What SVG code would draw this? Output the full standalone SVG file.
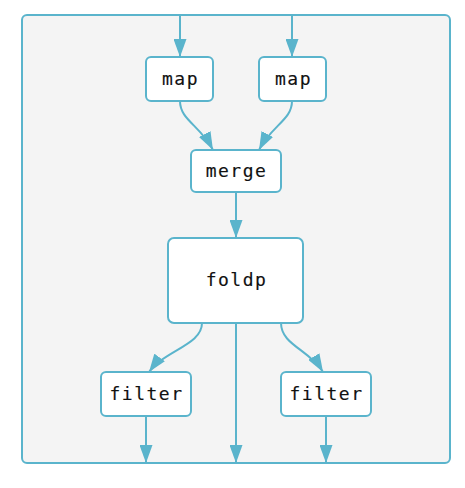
<svg xmlns="http://www.w3.org/2000/svg" width="465" height="488" viewBox="0 0 465 488">
<style>
.box{fill:#ffffff;stroke:#5ab4cc;stroke-width:2}
.frame{fill:#f4f4f4;stroke:#5ab4cc;stroke-width:2}
.edge{fill:none;stroke:#5ab4cc;stroke-width:2}
text{font-family:"DejaVu Sans Mono","Liberation Mono",monospace;font-size:18px;letter-spacing:1.5px;fill:#111;stroke:#111;stroke-width:0.15;text-anchor:middle}
</style>
<defs>
<marker id="ah" viewBox="0 0 18 13" refX="18" refY="6.5" markerWidth="18" markerHeight="13" markerUnits="userSpaceOnUse" orient="auto">
<path d="M0,0 L18,6.5 L0,13 z" fill="#5ab4cc"/>
</marker>
</defs>
<rect class="frame" x="22" y="15" width="428" height="448" rx="5"/>
<g id="connectors">
<path class="edge" d="M180,15 L180,57" marker-end="url(#ah)"/>
<path class="edge" d="M292,15 L292,57" marker-end="url(#ah)"/>
<path class="edge" d="M180,101 C180,120 200,125 213,150" marker-end="url(#ah)"/>
<path class="edge" d="M292,101 C292,120 272,125 259,150" marker-end="url(#ah)"/>
<path class="edge" d="M236,192 L236,238" marker-end="url(#ah)"/>
<path class="edge" d="M202,323 C202,345 165,350 149,372" marker-end="url(#ah)"/>
<path class="edge" d="M281,323 C281,345 310,350 323,372" marker-end="url(#ah)"/>
<path class="edge" d="M236,323 L236,463" marker-end="url(#ah)"/>
<path class="edge" d="M146,416 L146,463" marker-end="url(#ah)"/>
<path class="edge" d="M326,416 L326,463" marker-end="url(#ah)"/>
</g>
<g id="map1"><rect class="box" x="146" y="57" width="67" height="44" rx="5"/><text x="180.5" y="85">map</text></g>
<g id="map2"><rect class="box" x="259" y="57" width="67" height="44" rx="5"/><text x="293.5" y="85">map</text></g>
<g id="merge"><rect class="box" x="191" y="150" width="90" height="42" rx="5"/><text x="236.5" y="177">merge</text></g>
<g id="foldp"><rect class="box" x="168" y="238" width="135" height="85" rx="6"/><text x="236.5" y="286">foldp</text></g>
<g id="filter1"><rect class="box" x="101" y="372" width="90" height="44" rx="5"/><text x="146.5" y="400">filter</text></g>
<g id="filter2"><rect class="box" x="281" y="372" width="90" height="44" rx="5"/><text x="326.5" y="400">filter</text></g>
</svg>
